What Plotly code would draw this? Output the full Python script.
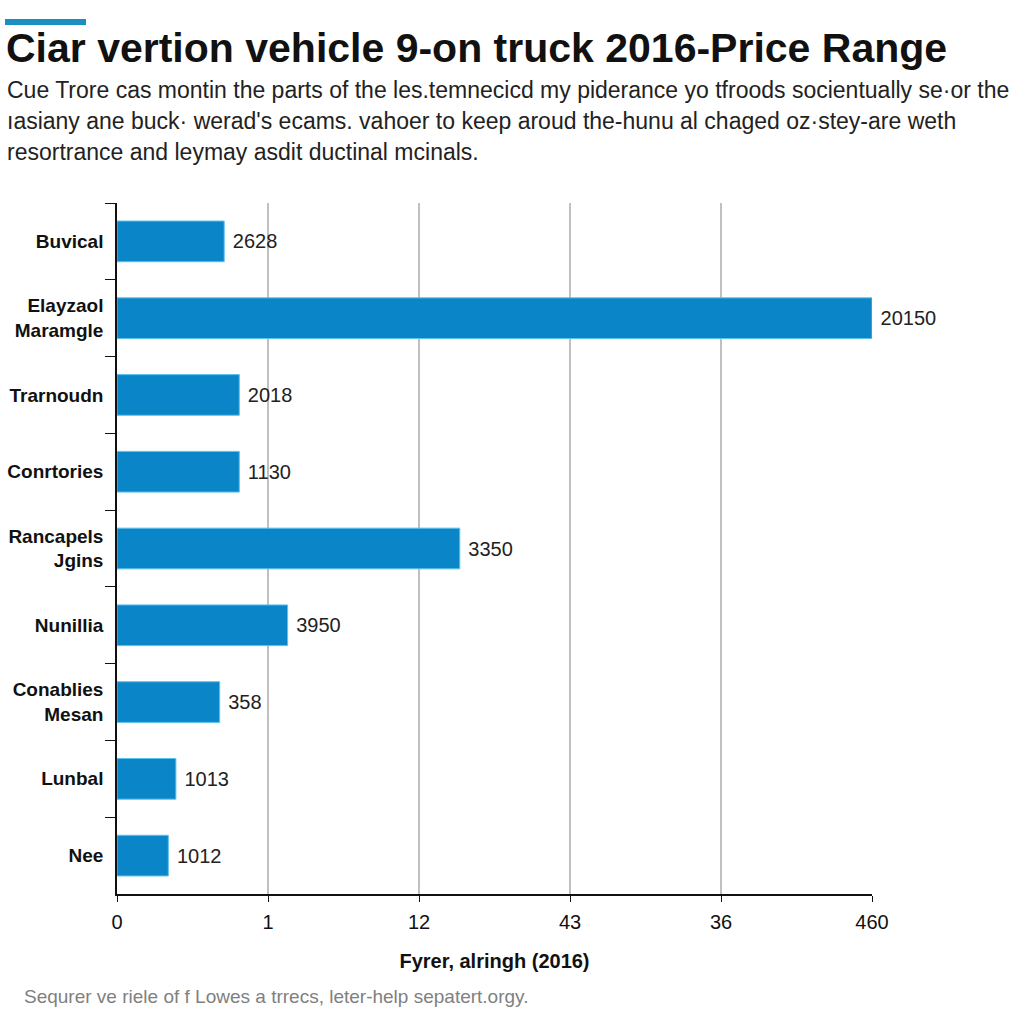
import plotly.graph_objects as go

categories = ["Buvical", "Elayzaol<br>Maramgle", "Trarnoudn", "Conrtories",
              "Rancapels<br>Jgins", "Nunillia", "Conablies<br>Mesan", "Lunbal", "Nee"]
bar_lengths = [0.71, 5.0, 0.81, 0.81, 2.27, 1.13, 0.68, 0.39, 0.34]
bar_labels = ["2628", "20150", "2018", "1130", "3350", "3950", "358", "1013", "1012"]
tick_positions = [0, 1, 2, 3, 4, 5]
tick_labels = ["0", "1", "12", "43", "36", "460"]

title = "Ciar vertion vehicle 9-on truck 2016-Price Range"
subtitle_lines = [
    "Cue Trore cas montin the parts of the les.temnecicd my piderance yo tfroods socientually se·or the",
    "ıasiany ane buck· werad's ecams. vahoer to keep aroud the-hunu al chaged oz·stey-are weth",
    "resortrance and leymay asdit ductinal mcinals.",
]
x_title = "Fyrer, alringh (2016)"
footer = "Sequrer ve riele of f Lowes a trrecs, leter-help sepatert.orgy."

# plot area in pixels
L, R, T, B = 117, 872, 203, 894
W, H = R - L, B - T


def px(x):
    return (x - L) / W


def py(y):
    return (B - y) / H


FONT = "Liberation Sans"
BLUE = "#0A86C8"

fig = go.Figure(go.Bar(
    x=bar_lengths, y=categories, orientation="h",
    marker=dict(color=BLUE, line=dict(color="#5cc2ee", width=1)),
    width=0.53,
    text=bar_labels, texttemplate=" %{text}", textposition="outside", cliponaxis=False,
    textfont=dict(family=FONT, size=20, color="#222222"),
))

fig.update_layout(
    width=1024, height=1024,
    margin=dict(l=L, r=1024 - R, t=T, b=1024 - B, autoexpand=False),
    paper_bgcolor="white", plot_bgcolor="white",
    showlegend=False,
    font=dict(family=FONT, color="#111111"),
    xaxis=dict(
        range=[0, 5], tickvals=tick_positions, ticktext=tick_labels,
        showgrid=True, gridcolor="#c0c0c0", gridwidth=1.5,
        showline=True, linecolor="#111111", linewidth=2,
        ticks="outside", ticklen=6, tickcolor="#111111",
        tickfont=dict(family=FONT, size=20, color="#111111"),
        ticklabelstandoff=3,
        zeroline=False,
        title=dict(text=x_title, font=dict(family=FONT, size=20, color="#111111", weight="bold"),
                   standoff=22),
    ),
    yaxis=dict(
        autorange="reversed", type="category",
        showgrid=False, showline=True, linecolor="#111111", linewidth=1.5,
        ticks="outside", tickson="boundaries", ticklen=10, tickcolor="#111111",
        tickfont=dict(family=FONT, size=19, color="#111111", weight="bold"),
        ticklabelstandoff=8,
    ),
    bargap=0.47,
)

annotations = [
    dict(text=title, x=px(4), y=py(48), xanchor="left", yanchor="middle",
         font=dict(family=FONT, size=41, color="#111111", weight="bold")),
]
for i, line in enumerate(subtitle_lines):
    annotations.append(dict(text=line, x=px(5), y=py(90 + 31 * i), xanchor="left", yanchor="middle",
                            font=dict(family=FONT, size=23, color="#222222")))
annotations.append(dict(text=footer, x=px(22), y=py(997), xanchor="left", yanchor="middle",
                        font=dict(family=FONT, size=19, color="#808080")))
for a in annotations:
    a.update(xref="paper", yref="paper", showarrow=False)
fig.update_layout(annotations=annotations)

fig.add_shape(type="rect", xref="paper", yref="paper",
              x0=px(5), x1=px(86), y0=py(19), y1=py(25),
              fillcolor="#1a8fc0", line=dict(width=0))

fig.write_html("out.html")
